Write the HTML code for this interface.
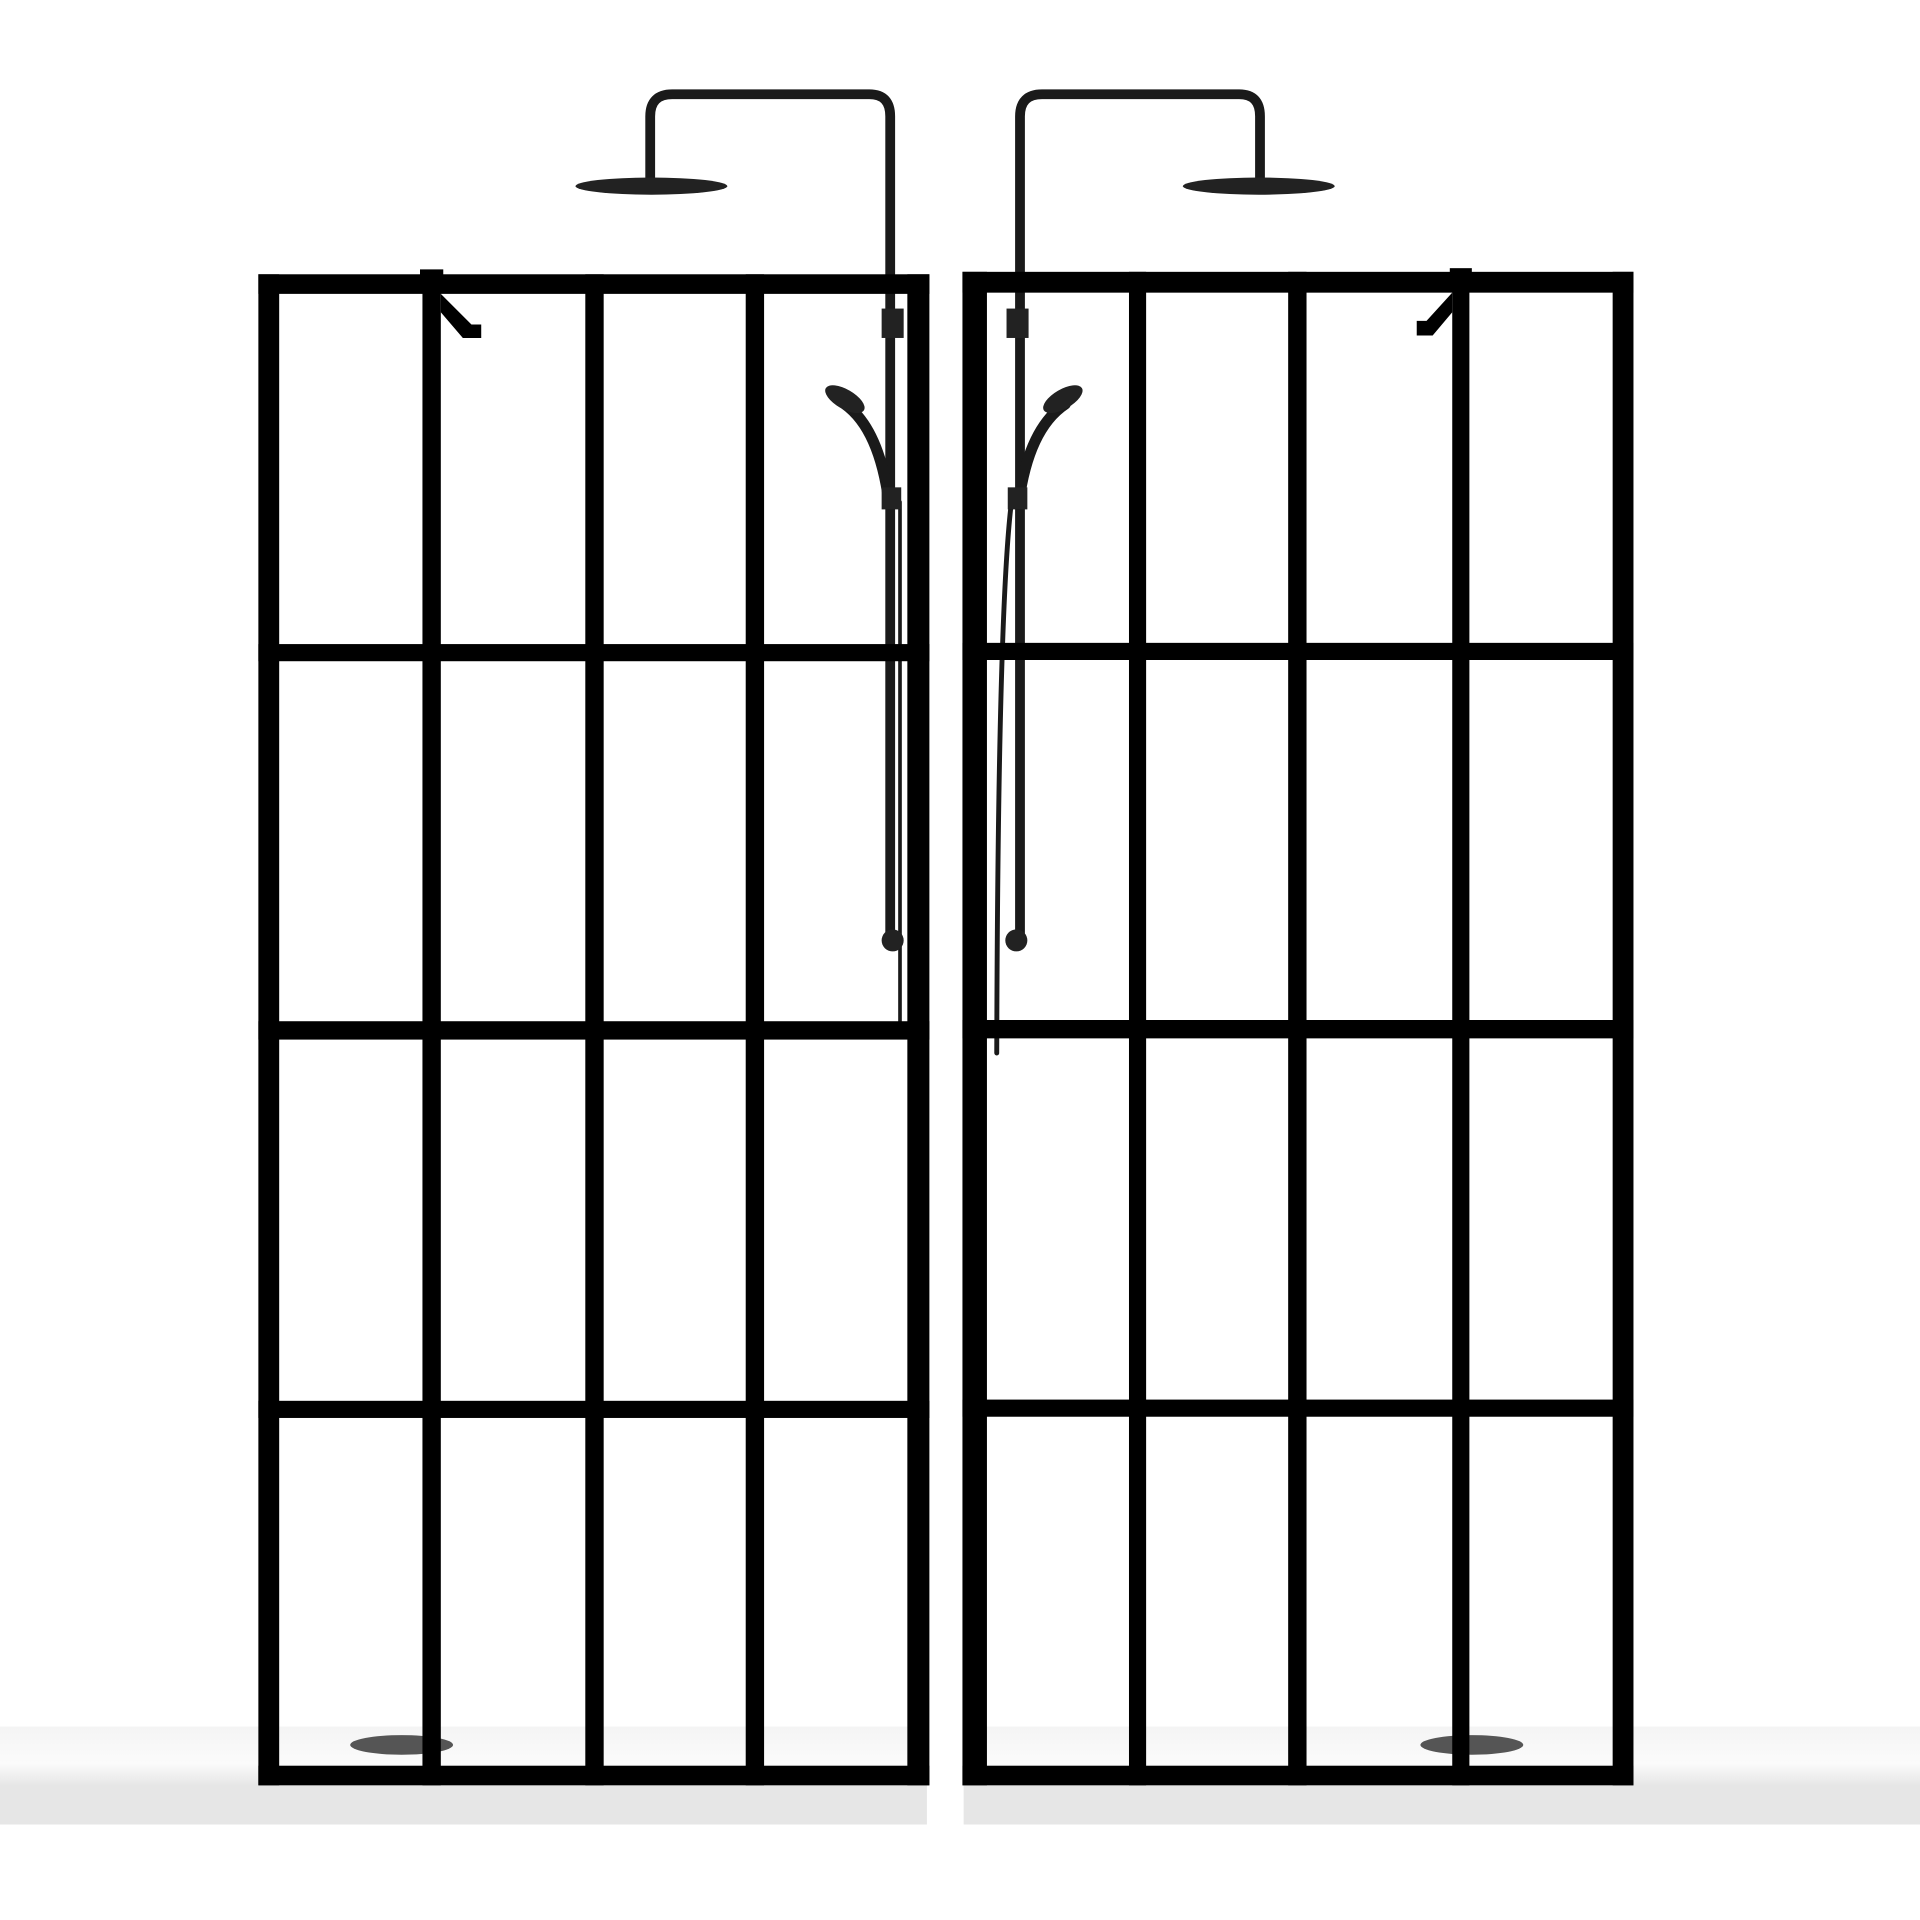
<!DOCTYPE html>
<html><head><meta charset="utf-8"><style>html,body{margin:0;padding:0;background:#fff}svg{display:block}</style></head>
<body>
<svg width="1920" height="1920" viewBox="0 0 1568 1568" xmlns="http://www.w3.org/2000/svg">
<defs>
<linearGradient id="tray" x1="0" y1="0" x2="0" y2="1"><stop offset="0" stop-color="#f4f4f4"/><stop offset="0.6" stop-color="#fbfbfb"/><stop offset="1" stop-color="#e4e4e4"/></linearGradient>
</defs>
<rect width="1568" height="1568" fill="#fff"/>
<!-- trays -->
<rect x="0" y="1410" width="757" height="50" fill="url(#tray)"/>
<rect x="0" y="1458" width="757" height="32" fill="#e6e6e6"/>
<rect x="787" y="1410" width="781" height="50" fill="url(#tray)"/>
<rect x="787" y="1458" width="781" height="32" fill="#e6e6e6"/>
<ellipse cx="328" cy="1425" rx="42" ry="8" fill="#555"/>
<ellipse cx="1202" cy="1425" rx="42" ry="8" fill="#555"/>
<!-- shower left -->
<g fill="none" stroke="#1a1a1a" stroke-linecap="round">
<path d="M531 145 V95 Q531 77 549 77 H710 Q727 77 727 95 V770" stroke-width="8"/>
<path d="M833 770 V95 Q833 77 851 77 H1012 Q1029 77 1029 95 V145" stroke-width="8"/>
<path d="M690 330 Q718 350 726 410" stroke-width="9"/>
<path d="M870 330 Q840 350 832 410" stroke-width="9"/>
<path d="M735 410 V840" stroke-width="3"/>
<path d="M826 410 Q815 500 814 860" stroke-width="4"/>
</g>
<ellipse cx="532" cy="152" rx="62" ry="7" fill="#222"/>
<ellipse cx="1028" cy="152" rx="62" ry="7" fill="#222"/>
<ellipse cx="690" cy="326" rx="18" ry="8" fill="#222" transform="rotate(30 690 326)"/>
<ellipse cx="868" cy="326" rx="18" ry="8" fill="#222" transform="rotate(-30 868 326)"/>
<rect x="720" y="398" width="16" height="18" fill="#222"/>
<rect x="823" y="398" width="16" height="18" fill="#222"/>
<circle cx="729" cy="768" r="9" fill="#222"/>
<circle cx="830" cy="768" r="9" fill="#222"/>
<rect x="720" y="252" width="18" height="24" fill="#222"/>
<rect x="822" y="252" width="18" height="24" fill="#222"/>
<!-- left panel -->
<g fill="#000">
<rect x="211" y="224" width="548" height="16"/>
<rect x="211" y="1442" width="548" height="16"/>
<rect x="211" y="224" width="17" height="1234"/>
<rect x="741" y="224" width="18" height="1234"/>
<rect x="345" y="224" width="15" height="1234"/>
<rect x="478" y="224" width="15" height="1234"/>
<rect x="609" y="224" width="15" height="1234"/>
<rect x="211" y="526" width="548" height="14"/>
<rect x="211" y="834" width="548" height="15"/>
<rect x="211" y="1144" width="548" height="14"/>
<path d="M360 240 L385 265 L393 265 L393 276 L378 276 L360 255Z"/>
<rect x="343" y="220" width="19" height="8"/>
<!-- right panel -->
<rect x="786" y="222" width="548" height="17"/>
<rect x="786" y="1442" width="548" height="16"/>
<rect x="786" y="222" width="20" height="1236"/>
<rect x="1317" y="222" width="17" height="1236"/>
<rect x="922" y="222" width="14" height="1236"/>
<rect x="1052" y="222" width="15" height="1236"/>
<rect x="1186" y="222" width="14" height="1236"/>
<rect x="786" y="525" width="548" height="14"/>
<rect x="786" y="833" width="548" height="15"/>
<rect x="786" y="1143" width="548" height="14"/>
<path d="M1186 239 L1165 262 L1157 262 L1157 274 L1170 274 L1186 255Z"/>
<rect x="1184" y="219" width="18" height="8"/>
</g>
</svg>
</body></html>
